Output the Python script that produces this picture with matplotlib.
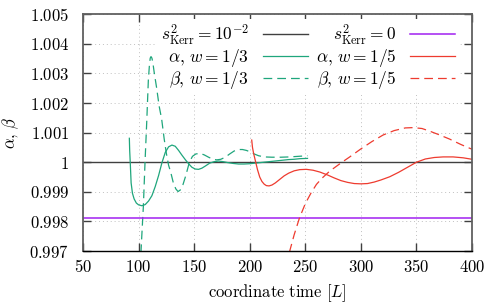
import numpy as np
import matplotlib
matplotlib.use("Agg")
import matplotlib.pyplot as plt
from matplotlib.ticker import MultipleLocator, FuncFormatter

plt.rcParams['mathtext.fontset'] = 'cm'
plt.rcParams['font.family'] = 'DejaVu Serif'
plt.rcParams['font.size'] = 12

# horizontal reference levels
kerr_1e2_level = 1.0
kerr_0_level = 0.99811

# alpha, w = 1/3
t_a3 = [91.7, 92.0, 92.5, 93.3, 94.5, 96, 98, 100, 103, 106, 109, 112, 115, 118, 121, 124,
        127, 130, 133, 136, 139, 142, 145, 148, 151, 154, 157, 160, 164, 168, 172, 176, 180,
        185, 190, 195, 200, 205, 210, 215, 220, 225, 230, 235, 240, 245, 252]
a3 = [1.00081, 1.0004, 1.0000, 0.9993, 0.99895, 0.99876, 0.99862, 0.99856, 0.99853, 0.99857,
      0.99869, 0.99887, 0.99918, 0.99955, 0.99998, 1.00033, 1.00052, 1.00058, 1.00054, 1.00040,
      1.00024, 1.00009, 0.99995, 0.99983, 0.99977, 0.99976, 0.99980, 0.99987, 0.99997, 1.00002,
      1.00004, 1.00002, 0.99999, 0.99996, 0.99994, 0.99994, 0.99995, 0.99997, 0.99999, 1.00001,
      1.00003, 1.00005, 1.00007, 1.00009, 1.00010, 1.00012, 1.00013]

# beta, w = 1/3
t_b3 = [101.0, 102.2, 103.3, 104.3, 105.8, 107.3, 108.8, 109.8, 110.5, 111.2, 112, 112.8, 114,
        116.3, 118.5, 120.8, 123, 125, 127, 129, 131.3, 133.5, 135.5, 137.5, 140, 142.5, 145.7,
        148.5, 151.5, 155.3, 159, 163, 167, 170.3, 174, 178, 182, 186, 190, 193.5, 197, 200.5,
        204, 208, 213, 220, 228, 236, 244, 252]
b3 = [0.9960, 0.9970, 0.9978, 0.9985, 1.0000, 1.00132, 1.00278, 1.00330, 1.00352, 1.00357,
      1.00352, 1.00338, 1.00305, 1.0025, 1.0019, 1.00145, 1.0008, 1.0003, 0.9999, 0.99965,
      0.9993, 0.9991, 0.99901, 0.99906, 0.99925, 0.99955, 1.0000, 1.0002, 1.00028, 1.0003,
      1.00025, 1.00017, 1.0001, 1.00008, 1.0001, 1.00017, 1.00028, 1.00038, 1.00043, 1.00043,
      1.0004, 1.00035, 1.00028, 1.00022, 1.00018, 1.00017, 1.00017, 1.00018, 1.0002, 1.00022]

# alpha, w = 1/5
t_a5 = [201.8, 202.5, 203.5, 205.4, 207, 209, 211, 213, 215, 217.4, 220, 223, 227, 231, 235,
        240, 245, 251, 257, 263, 270, 276, 282, 288, 294, 300, 306, 312, 318, 326, 334, 342,
        350, 358, 366, 374, 383, 392, 400]
a5 = [1.00075, 1.0005, 1.0003, 1.0, 0.99975, 0.9995, 0.99935, 0.99926, 0.99921, 0.9992,
      0.99923, 0.9993, 0.99942, 0.99954, 0.99963, 0.99971, 0.99975, 0.99976, 0.99973, 0.99967,
      0.99957, 0.99947, 0.99938, 0.99932, 0.99928, 0.99927, 0.99928, 0.99933, 0.99940, 0.99951,
      0.99966, 0.99983, 1.0, 1.00011, 1.00016, 1.00018, 1.00018, 1.00015, 1.0001]

# beta, w = 1/5
t_b5 = [233, 236.3, 240, 244.7, 250, 255, 260, 265, 272, 283, 290, 300, 310, 320, 330, 340,
        347, 355, 362, 371, 380, 390, 400]
b5 = [0.9965, 0.99704, 0.99755, 0.99811, 0.9986, 0.99895, 0.99925, 0.99946, 0.9997, 1.0,
      1.00018, 1.00045, 1.0007, 1.00092, 1.00107, 1.00116, 1.00117, 1.00114, 1.00105, 1.00092,
      1.00078, 1.0006, 1.00044]

green = '#1fa67c'
red = '#ee3b2f'
purple = '#a020f0'
dash = (7, 4)

fig = plt.figure(figsize=(5.0, 3.04), dpi=100)
ax = fig.add_axes([0.166, 0.1743, 0.778, 0.7787])

l1 = ax.axhline(kerr_1e2_level, color='#404040', lw=1.0)
l2, = ax.plot(t_a3, a3, color=green, lw=0.9)
l3, = ax.plot(t_b3, b3, color=green, lw=0.9, dashes=dash)
l4 = ax.axhline(kerr_0_level, color=purple, lw=1.1)
l5, = ax.plot(t_a5, a5, color=red, lw=0.9)
l6, = ax.plot(t_b5, b5, color=red, lw=0.9, dashes=dash)

ax.set_xlim(50, 400)
ax.set_ylim(0.997, 1.005)
ax.xaxis.set_major_locator(MultipleLocator(50))
ax.yaxis.set_major_locator(MultipleLocator(0.001))
fmt = FuncFormatter(lambda v, p: f"${v:g}$")
ax.xaxis.set_major_formatter(fmt)
ax.yaxis.set_major_formatter(fmt)
ax.tick_params(direction='in', length=6, width=1, color='#404040',
               top=True, right=True, labelsize=12)
ax.tick_params(axis='y', pad=10)
ax.tick_params(axis='x', pad=6)
ax.grid(True, ls=(0, (1, 3)), color='#c0c0c0', lw=0.7)
ax.set_axisbelow(True)

for side in ['left', 'top', 'right']:
    ax.spines[side].set_color('#606060')
    ax.spines[side].set_linewidth(1.3)
ax.spines['bottom'].set_color('black')
ax.spines['bottom'].set_linewidth(1.0)

ax.set_xlabel(r"$\mathrm{coordinate\ time}\ [L]$", fontsize=12, labelpad=4)
ax.set_ylabel(r"$\alpha,\,\beta$", fontsize=12, labelpad=6)

labels = [r"$s^2_{\mathrm{Kerr}} = 10^{-2}$", r"$\alpha,\, w = 1/3$", r"$\beta,\, w = 1/3$",
          r"$s^2_{\mathrm{Kerr}} = 0$", r"$\alpha,\, w = 1/5$", r"$\beta,\, w = 1/5$"]
leg = ax.legend([l1, l2, l3, l4, l5, l6], labels, ncol=2, markerfirst=False,
                loc='upper right', bbox_to_anchor=(0.966, 0.98), borderaxespad=0,
                borderpad=0.2, handlelength=2.6, handletextpad=0.8, columnspacing=0.45,
                labelspacing=0.0, fontsize=12.5, frameon=True, fancybox=False,
                framealpha=1, edgecolor='none', facecolor='white')
# draw curves above the legend background, as in the original
leg.set_zorder(1.5)

fig.savefig("out.png", dpi=100)
